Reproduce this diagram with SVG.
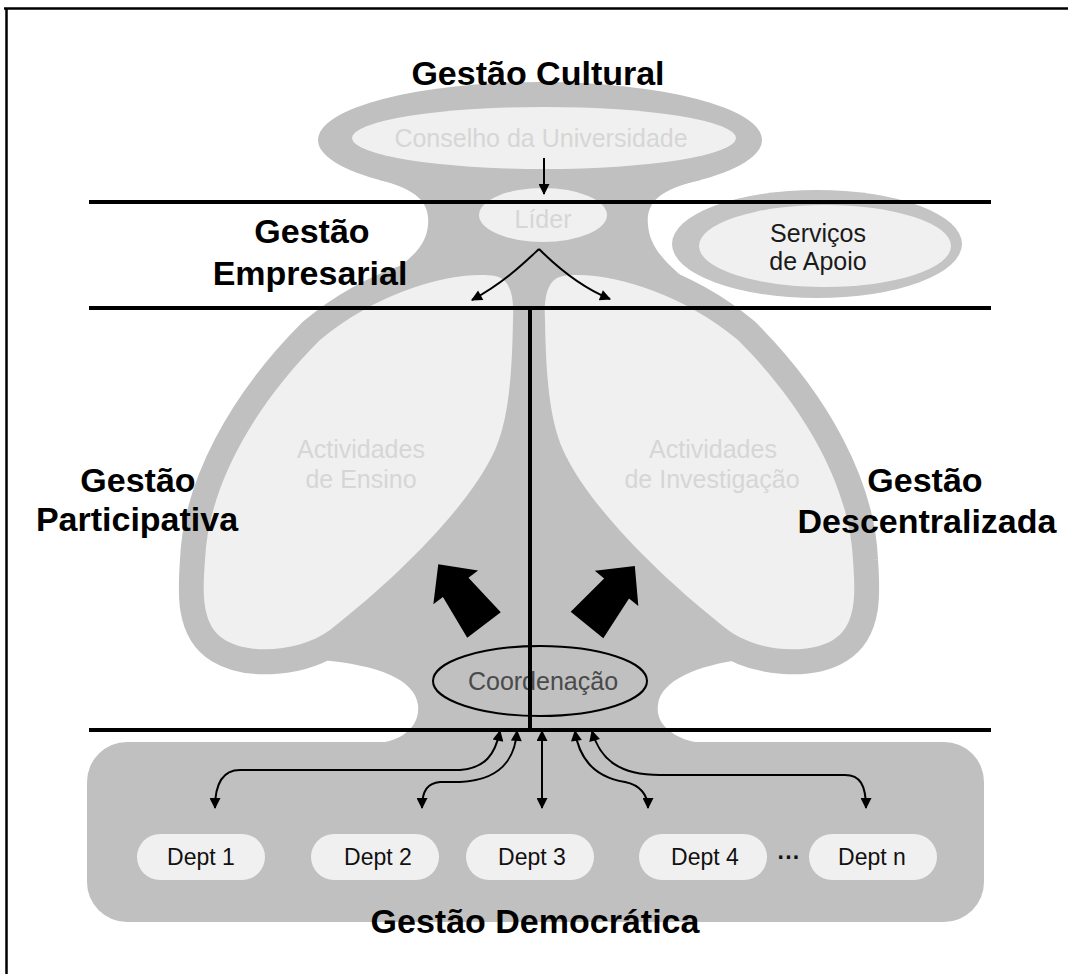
<svg xmlns="http://www.w3.org/2000/svg" width="1068" height="974" viewBox="0 0 1068 974">
<style>
  .g{fill:#c0c0c0}
  .l{fill:#f0f0f0}
  .b{font-family:"Liberation Sans",Arial,sans-serif;font-weight:bold;font-size:34px;fill:#000;text-anchor:middle}
  .f{font-family:"Liberation Sans",Arial,sans-serif;font-size:25px;fill:#d6d6d6;text-anchor:middle}
  .t{font-family:"Liberation Sans",Arial,sans-serif;font-size:25px;fill:#1a1a1a;text-anchor:middle}
  .d{font-family:"Liberation Sans",Arial,sans-serif;font-size:23px;fill:#111;text-anchor:middle}
  .sep{stroke:#000;stroke-width:4}
  .c{fill:none;stroke:#000;stroke-width:2}
</style>
<defs>
  <marker id="ah" viewBox="0 0 10 10" refX="9" refY="5" markerWidth="13" markerHeight="11" markerUnits="userSpaceOnUse" orient="auto-start-reverse">
    <path d="M0,0 L10,5 L0,10 Z" fill="#000"/>
  </marker>
  <!-- teardrop lobe, left side; the right one is its mirror -->
  <path id="lobe" d="M495 276 C512 279 514 300 513 320 C512 380 508 420 495 450 C470 505 400 575 330 630 C300 652 250 655 225 640 C200 625 203 590 205 560 C208 490 250 410 320 340 C380 290 455 270 495 276 Z"/>
  <!-- thick block arrow, tip up, base at origin -->
  <path id="block" d="M-21,0 L21,0 L16,-47 L28,-47 L0,-76 L-28,-47 L-16,-47 Z"/>
</defs>

<rect width="1068" height="974" fill="#fff"/>
<path d="M4 8.5 H1068 M6.5 8 V974" stroke="#000" stroke-width="2.5" fill="none"/>

<!-- gray body of the organisation -->
<g id="body" class="g">
  <ellipse cx="540" cy="140" rx="222" ry="58"/>
  <path d="M380 180 C420 190 430 205 428 225 C426 250 405 265 360 292 L700 292 C668 265 650 250 648 225 C646 205 656 190 700 180 Z"/>
  <use href="#lobe" stroke="#c0c0c0" stroke-width="50" stroke-linejoin="round"/>
  <use href="#lobe" transform="translate(1058,0) scale(-1,1)" stroke="#c0c0c0" stroke-width="50" stroke-linejoin="round"/>
  <path d="M470 250 L590 250 L740 620 L740 660 C700 665 660 680 658 705 C655 725 675 738 695 742 L385 742 C405 738 420 725 418 705 C415 680 380 665 320 660 L320 620 Z"/>
  <rect x="87" y="742" width="897" height="180" rx="40"/>
</g>

<g id="conselho">
  <ellipse class="l" cx="544" cy="138" rx="192" ry="31"/>
  <text class="f" x="541" y="147" font-size="26.5">Conselho da Universidade</text>
</g>

<g id="lider">
  <ellipse class="l" cx="543" cy="215" rx="64" ry="27"/>
  <text class="f" x="543" y="228" font-size="26">Líder</text>
</g>

<g id="servicos">
  <ellipse cx="817" cy="244" rx="145" ry="54" fill="#c4c4c4"/>
  <ellipse class="l" cx="825" cy="246" rx="126" ry="41"/>
  <text class="t" x="818" y="242">Serviços</text>
  <text class="t" x="818" y="270">de Apoio</text>
</g>

<g id="ensino">
  <use href="#lobe" class="l"/>
  <text class="f" x="361" y="458" font-size="24">Actividades</text>
  <text class="f" x="361" y="488" font-size="24">de Ensino</text>
</g>

<g id="investigacao">
  <use href="#lobe" class="l" transform="translate(1058,0) scale(-1,1)"/>
  <text class="f" x="713" y="458" font-size="24">Actividades</text>
  <text class="f" x="712" y="488" font-size="24">de Investigação</text>
</g>

<g id="impulse">
  <use href="#block" transform="translate(484,625) rotate(-37)"/>
  <use href="#block" transform="translate(587,625) rotate(39)"/>
</g>

<g id="coordenacao">
  <ellipse cx="540" cy="681" rx="107" ry="35" fill="none" stroke="#000" stroke-width="2"/>
  <text class="t" x="543" y="690" font-size="24" style="fill:#4a4a4a">Coordenação</text>
</g>

<g id="departamentos">
  <g id="dept1"><rect class="l" x="137" y="834" width="128" height="46" rx="23"/><text class="d" x="201" y="865">Dept 1</text></g>
  <g id="dept2"><rect class="l" x="311" y="834" width="128" height="46" rx="23"/><text class="d" x="378" y="865">Dept 2</text></g>
  <g id="dept3"><rect class="l" x="466" y="834" width="128" height="46" rx="23"/><text class="d" x="532" y="865">Dept 3</text></g>
  <g id="dept4"><rect class="l" x="639" y="834" width="128" height="46" rx="23"/><text class="d" x="705" y="865">Dept 4</text></g>
  <text class="d" x="789" y="865" font-weight="bold">···</text>
  <g id="deptn"><rect class="l" x="809" y="834" width="128" height="46" rx="23"/><text class="d" x="872" y="865">Dept n</text></g>
</g>

<!-- level separators -->
<g id="levels">
  <line class="sep" x1="89" y1="202" x2="991" y2="202"/>
  <line class="sep" x1="89" y1="308" x2="991" y2="308"/>
  <line class="sep" x1="89" y1="730" x2="991" y2="730"/>
</g>

<g id="connectors">
  <line x1="530" y1="308" x2="530" y2="730" stroke="#000" stroke-width="4"/>
  <path class="c" d="M544 158 V194" marker-end="url(#ah)"/>
  <path class="c" d="M539 249 C525 262 505 282 472 300" marker-end="url(#ah)"/>
  <path class="c" d="M539 249 C555 265 578 286 610 299" marker-end="url(#ah)"/>
  <path class="c" d="M500 731 C495 755 485 768 460 770 L240 770 C225 770 215 780 215 808" marker-start="url(#ah)" marker-end="url(#ah)"/>
  <path class="c" d="M517 731 C515 760 500 780 460 782 L440 782 C428 783 422 790 422 808" marker-start="url(#ah)" marker-end="url(#ah)"/>
  <path class="c" d="M542 731 V808" marker-start="url(#ah)" marker-end="url(#ah)"/>
  <path class="c" d="M575 731 C580 765 600 778 625 782 C640 785 648 795 648 808" marker-start="url(#ah)" marker-end="url(#ah)"/>
  <path class="c" d="M592 731 C600 760 620 775 660 775 L845 775 C860 775 866 785 866 808" marker-start="url(#ah)" marker-end="url(#ah)"/>
</g>

<g id="labels">
  <text class="b" x="538" y="85">Gestão Cultural</text>
  <text class="b" x="312" y="243">Gestão</text>
  <text class="b" x="310" y="285">Empresarial</text>
  <text class="b" x="138" y="492">Gestão</text>
  <text class="b" x="137" y="531">Participativa</text>
  <text class="b" x="925" y="492">Gestão</text>
  <text class="b" x="927" y="533">Descentralizada</text>
  <text class="b" x="535" y="933">Gestão Democrática</text>
</g>
</svg>
